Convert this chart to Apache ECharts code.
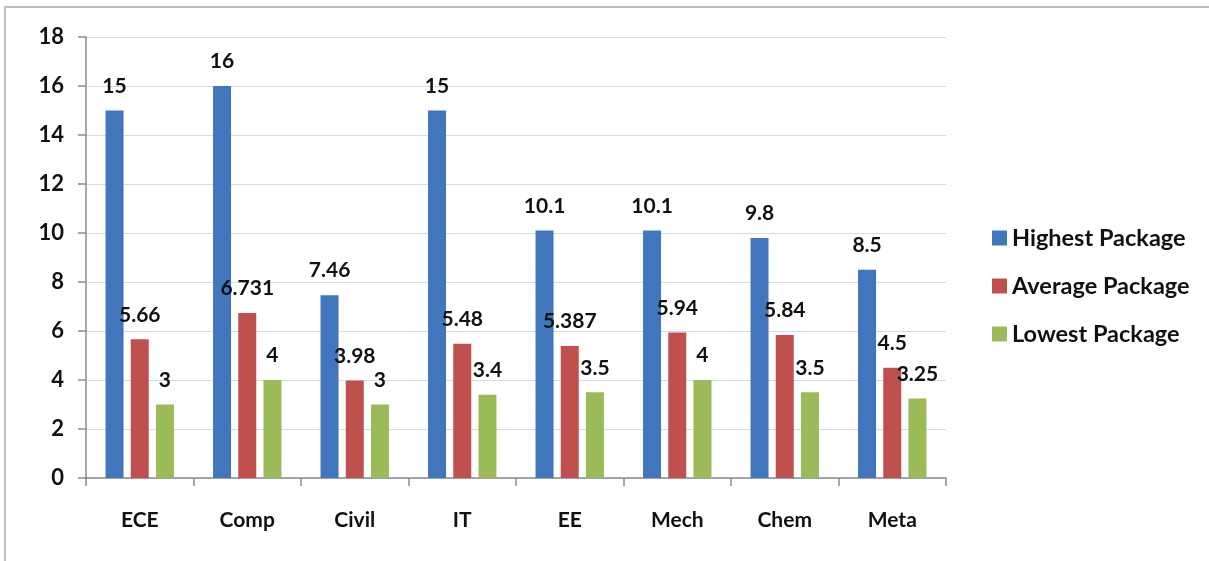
<!DOCTYPE html>
<html>
<head>
<meta charset="utf-8">
<script src="https://cdn.jsdelivr.net/npm/echarts@6/dist/echarts.min.js"></script>
<style>html,body{margin:0;padding:0;background:#fff;}#c{width:1209px;height:561px;}</style>
</head>
<body>
<div id="c"></div>
<script>
const categories = ['ECE', 'Comp', 'Civil', 'IT', 'EE', 'Mech', 'Chem', 'Meta'];
const highest = [15, 16, 7.46, 15, 10.1, 10.1, 9.8, 8.5];
const average = [5.66, 6.731, 3.98, 5.48, 5.387, 5.94, 5.84, 4.5];
const lowest = [3, 4, 3, 3.4, 3.5, 4, 3.5, 3.25];
const yTicks = { min: 0, max: 18, interval: 2 };

const FONT = 'Lato';
const chart = echarts.init(document.getElementById('c'));
const label = {
  show: true, position: 'top', distance: 14,
  color: '#111', fontFamily: FONT, fontSize: 21, fontWeight: 'bold'
};
function bar(name, data, color) {
  return {
    name, type: 'bar', data, barWidth: 18, barGap: '40%',
    itemStyle: { color }, label, emphasis: { disabled: true }
  };
}
chart.setOption({
  animation: false,
  backgroundColor: '#fff',
  textStyle: { fontFamily: FONT },
  graphic: [
    { type: 'polyline', shape: { points: [[5, 561], [5, 7], [1209, 7]] },
      style: { stroke: '#bdbdbd', lineWidth: 2, fill: null } }
  ],
  grid: { left: 86, right: 263, top: 37, bottom: 83 },
  legend: {
    orient: 'vertical', left: 987, top: 221, itemGap: 24,
    itemWidth: 15, itemHeight: 15, icon: 'rect',
    textStyle: { fontFamily: FONT, fontSize: 23.5, color: '#111', fontWeight: 'bold' },
    data: ['Highest Package', 'Average Package', 'Lowest Package']
  },
  xAxis: {
    type: 'category', data: categories,
    axisLine: { lineStyle: { color: '#8c8c8c', width: 1.5 } },
    axisTick: { show: true, length: 8, lineStyle: { color: '#8c8c8c', width: 1.5 } },
    axisLabel: { margin: 32, color: '#111', fontFamily: FONT, fontSize: 21, fontWeight: 'bold' }
  },
  yAxis: {
    type: 'value', min: yTicks.min, max: yTicks.max, interval: yTicks.interval,
    axisLine: { show: true, lineStyle: { color: '#8c8c8c', width: 1.5 } },
    axisTick: { show: true, length: 8, lineStyle: { color: '#8c8c8c', width: 1.5 } },
    splitLine: { lineStyle: { color: '#cddcf0', width: 1 } },
    axisLabel: { margin: 22, color: '#111', fontFamily: FONT, fontSize: 22, fontWeight: 'bold' }
  },
  series: [
    bar('Highest Package', highest, '#4176bc'),
    bar('Average Package', average, '#c0504d'),
    bar('Lowest Package', lowest, '#9bbb59')
  ]
});
</script>
</body>
</html>
